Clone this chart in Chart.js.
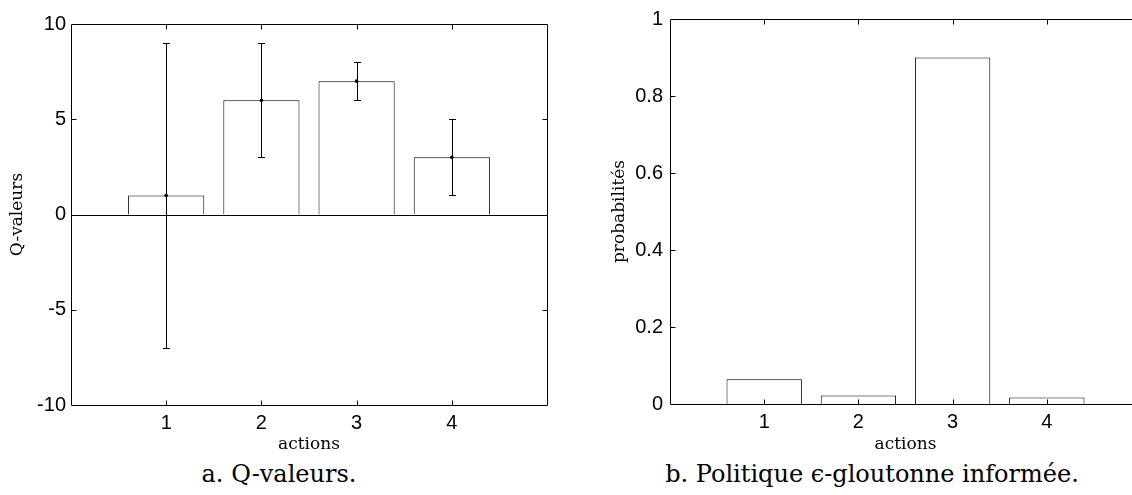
<!DOCTYPE html>
<html><head><meta charset="utf-8">
<script src="https://cdn.jsdelivr.net/npm/chart.js@4/dist/chart.umd.min.js"></script>
<style>
html,body{margin:0;padding:0;background:#fff;width:1132px;height:495px;overflow:hidden;position:relative}
canvas{position:absolute;top:0}
#c1{left:0}
#c2{left:580px}
.cap{position:absolute;top:460px;width:600px;text-align:center;font-family:"DejaVu Serif";font-size:24px;line-height:28px;color:#000;white-space:nowrap}
</style></head><body>
<canvas id="c1" width="566" height="460"></canvas>
<canvas id="c2" width="580" height="460"></canvas>
<div class="cap" style="left:-21px">a. Q-valeurs.</div>
<div class="cap" style="left:572px">b. Politique ϵ-gloutonne informée.</div>
<script>
// ---- data ----
const actions = [1, 2, 3, 4];
const qValues = [1, 6, 7, 3];
const qLow = [-7, 3, 6, 1];
const qHigh = [9, 9, 8, 5];
const probabilities = [0.064, 0.022, 0.9, 0.017];
const qTickValues = [-10, -5, 0, 5, 10];
const pTickValues = [0, 0.2, 0.4, 0.6, 0.8, 1];
const xTickLabels = ['1', '2', '3', '4'];

Chart.defaults.font.family = 'Liberation Sans';
Chart.defaults.color = '#000';
Chart.defaults.animation = false;

function boxPlugin(cfg) {
  return {
    id: 'box',
    afterDatasetsDraw(chart) {
      const {ctx, chartArea: a, scales: {x, y}} = chart;
      ctx.save();
      ctx.strokeStyle = '#000';
      ctx.lineWidth = 1;
      const L = Math.round(a.left) + 0.5, R = Math.round(a.right) + 0.5;
      const T = Math.round(a.top) + 0.5, B = Math.round(a.bottom) + 0.5;
      ctx.beginPath();
      ctx.rect(L, T, R - L, B - T);
      x.ticks.forEach(t => {
        if (t.value <= x.min || t.value >= x.max) return;
        const px = Math.round(x.getPixelForValue(t.value)) + 0.5;
        ctx.moveTo(px, T); ctx.lineTo(px, T + 5);
        ctx.moveTo(px, B); ctx.lineTo(px, B - 5);
      });
      y.ticks.forEach(t => {
        if (t.value <= y.min || t.value >= y.max) return;
        const py = Math.round(y.getPixelForValue(t.value)) + 0.5;
        ctx.moveTo(L, py); ctx.lineTo(L + 5, py);
        ctx.moveTo(R, py); ctx.lineTo(R - 5, py);
      });
      if (cfg.zeroLine) {
        const py = Math.round(y.getPixelForValue(0)) + 0.5;
        ctx.moveTo(L, py); ctx.lineTo(R, py);
      }
      ctx.stroke();
      if (cfg.low) {
        ctx.beginPath();
        cfg.cats.forEach((c, i) => {
          const px = Math.round(x.getPixelForValue(c)) + 0.5;
          const lo = Math.round(y.getPixelForValue(cfg.low[i])) + 0.5;
          const hi = Math.round(y.getPixelForValue(cfg.high[i])) + 0.5;
          ctx.moveTo(px, lo); ctx.lineTo(px, hi);
          ctx.moveTo(px - 3.5, lo); ctx.lineTo(px + 3.5, lo);
          ctx.moveTo(px - 3.5, hi); ctx.lineTo(px + 3.5, hi);
        });
        ctx.stroke();
        ctx.fillStyle = '#000';
        cfg.cats.forEach((c, i) => {
          const px = x.getPixelForValue(c), py = y.getPixelForValue(cfg.vals[i]);
          ctx.beginPath(); ctx.arc(px, py, 1.8, 0, Math.PI * 2); ctx.fill();
        });
      }
      ctx.restore();
    }
  };
}

function makeChart(id, vals, yTicks, yTitle, yWidth, yTitlePad, yPad, topPad, xHeight, plugCfg, fmt) {
  return new Chart(document.getElementById(id), {
    type: 'bar',
    data: {
      datasets: [{
        data: actions.map((a, i) => ({x: a, y: vals[i]})),
        backgroundColor: '#fff',
        borderColor: '#000',
        borderWidth: 1,
        barPercentage: 0.8,
        categoryPercentage: 1
      }]
    },
    options: {
      responsive: false,
      devicePixelRatio: 1,
      animation: false,
      layout: {padding: {top: topPad, right: 19, left: 0, bottom: 0}},
      plugins: {legend: {display: false}, tooltip: {enabled: false}},
      scales: {
        x: {
          type: 'linear', min: 0, max: 5, offset: false,
          grid: {display: false, drawTicks: false}, border: {display: false},
          ticks: {
            stepSize: 1, autoSkip: false, maxRotation: 0, padding: 6,
            font: {size: 20},
            callback: v => { const i = actions.indexOf(v); return i >= 0 ? xTickLabels[i] : ''; }
          },
          title: {display: true, text: 'actions', font: {family: 'DejaVu Serif', size: 17}, padding: {top: 0, bottom: 5}},
          afterFit: s => { s.height = xHeight; }
        },
        y: {
          min: yTicks[0], max: yTicks[yTicks.length - 1],
          grid: {display: false, drawTicks: false}, border: {display: false},
          afterBuildTicks: s => { s.ticks = yTicks.map(v => ({value: v})); },
          ticks: {padding: yPad, font: {size: 20}, callback: fmt},
          title: {display: true, text: yTitle, font: {family: 'DejaVu Serif', size: 17}, padding: {top: yTitlePad, bottom: 0}},
          afterFit: s => { s.width = yWidth; }
        }
      }
    },
    plugins: [boxPlugin(plugCfg)]
  });
}

makeChart('c1', qValues, qTickValues, 'Q-valeurs', 71, 7, 5, 24, 55,
  {zeroLine: true, cats: actions, vals: qValues, low: qLow, high: qHigh},
  v => String(v));
makeChart('c2', probabilities, pTickValues, 'probabilités', 90, 29, 7, 19, 56,
  {zeroLine: false},
  v => String(+Number(v).toFixed(2)));
</script>
</body></html>
